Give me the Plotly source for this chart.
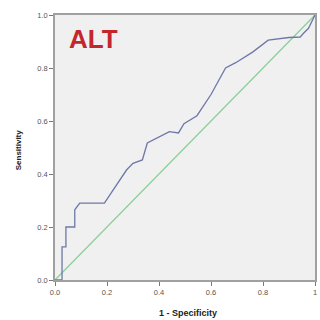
import plotly.graph_objects as go

fpr = [0.0, 0.027, 0.027, 0.04, 0.042, 0.042, 0.076, 0.076, 0.095, 0.19, 0.23, 0.275, 0.30, 0.336,
       0.355, 0.40, 0.44, 0.475, 0.496, 0.546, 0.60, 0.656, 0.695, 0.76, 0.82, 0.90, 0.943, 0.955, 0.975, 1.0]
tpr = [0.0, 0.0, 0.125, 0.125, 0.125, 0.20, 0.20, 0.265, 0.29, 0.29, 0.35, 0.415, 0.44, 0.453,
       0.517, 0.54, 0.56, 0.555, 0.59, 0.62, 0.70, 0.80, 0.82, 0.86, 0.905, 0.915, 0.917, 0.93, 0.95, 1.0]
ref = [0.0, 1.0]

x_ticks = [0, 0.2, 0.4, 0.6, 0.8, 1.0]
x_labels = ["0.0", "0.2", "0.4", "0.6", "0.8", "1"]
y_ticks = [0, 0.2, 0.4, 0.6, 0.8, 1.0]
y_labels = ["0.0", "0.2", "0.4", "0.6", "0.8", "1.0"]

fig = go.Figure()
fig.add_trace(go.Scatter(x=ref, y=ref, mode="lines",
                         line=dict(color="#8ccf9a", width=1.3), hoverinfo="skip"))
fig.add_trace(go.Scatter(x=fpr, y=tpr, mode="lines",
                         line=dict(color="#6e78a6", width=1.3)))

axis_common = dict(range=[0, 1], showgrid=False, zeroline=False, showline=True,
                   linecolor="#a0a0a0", linewidth=1.5, mirror=True,
                   ticks="outside", ticklen=4, tickcolor="#777",
                   tickfont=dict(family="Liberation Sans, Arial", size=7.5, color="#555"))
fig.update_xaxes(tickvals=x_ticks, ticktext=x_labels, **axis_common)
fig.update_yaxes(tickvals=y_ticks, ticktext=y_labels, **axis_common)

fig.update_layout(
    width=320, height=320,
    margin=dict(l=55, r=3, t=15, b=40),
    plot_bgcolor="#f0f0f0", paper_bgcolor="white",
    showlegend=False,
    annotations=[
        dict(text="<b>ALT</b>", x=0.045, y=0.975, xref="paper", yref="paper",
             xanchor="left", yanchor="top", showarrow=False,
             font=dict(family="Liberation Sans, Arial", size=26, color="#c4262e")),
        dict(text="<b>1 - Specificity</b>", x=(189 - 55) / 262, y=-(313 - 280) / 265,
             xref="paper", yref="paper", xanchor="center", yanchor="middle", showarrow=False,
             font=dict(family="Liberation Sans, Arial", size=9, color="#222")),
        dict(text="<b>Sensitivity</b>", x=-(55 - 18) / 262, y=(280 - 150) / 265,
             xref="paper", yref="paper", xanchor="center", yanchor="middle", showarrow=False,
             textangle=-90,
             font=dict(family="Liberation Sans, Arial", size=8, color="#222")),
    ],
)

fig.write_html("out.html")
